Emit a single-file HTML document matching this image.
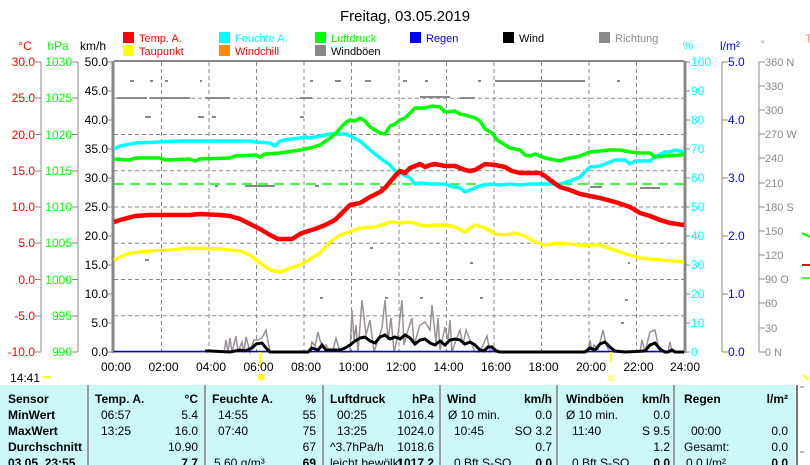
<!DOCTYPE html>
<html><head><meta charset="utf-8"><style>
body{margin:0;background:#fff;width:810px;height:465px;overflow:hidden;font-family:"Liberation Sans",sans-serif}
svg{position:absolute;left:0;top:0}
</style></head><body>
<svg width="810" height="465" viewBox="0 0 810 465" font-family="Liberation Sans, sans-serif" font-size="12">
<text x="405" y="21" text-anchor="middle" font-size="15" fill="#000">Freitag, 03.05.2019</text>
<g font-size="11">
<rect x="123" y="32" width="11" height="11" fill="#f00"/><text x="139" y="42" fill="#f00">Temp. A.</text>
<rect x="219" y="32" width="11" height="11" fill="#0ff"/><text x="235" y="42" fill="#0ff">Feuchte A.</text>
<rect x="315" y="32" width="11" height="11" fill="#0f0"/><text x="331" y="42" fill="#0f0">Luftdruck</text>
<rect x="410" y="32" width="11" height="11" fill="#00f"/><text x="426" y="42" fill="#00f">Regen</text>
<rect x="503" y="32" width="11" height="11" fill="#000"/><text x="519" y="42" fill="#000">Wind</text>
<rect x="599" y="32" width="11" height="11" fill="#888"/><text x="615" y="42" fill="#888">Richtung</text>
<rect x="123" y="45" width="11" height="11" fill="#ff0"/><text x="139" y="55" fill="#f00">Taupunkt</text>
<rect x="219" y="45" width="11" height="11" fill="#f80"/><text x="235" y="55" fill="#f00">Windchill</text>
<rect x="315" y="45" width="11" height="11" fill="#888"/><text x="331" y="55" fill="#000">Windböen</text>
</g>
<text x="805" y="43" fill="#f88" font-size="12">T</text>
<text x="25" y="50" fill="#f00" text-anchor="middle">°C</text>
<text x="58" y="50" fill="#0f0" text-anchor="middle">hPa</text>
<text x="93" y="50" fill="#000" text-anchor="middle">km/h</text>
<text x="688" y="50" fill="#0ff" text-anchor="middle">%</text>
<text x="730" y="50" fill="#00f" text-anchor="middle">l/m²</text>
<text x="761" y="47" fill="#888" font-size="9">°</text>
<g stroke="#888" stroke-width="1">
<line x1="41" y1="62" x2="41" y2="352"/><line x1="78" y1="62" x2="78" y2="352"/>
<line x1="722" y1="62" x2="722" y2="352"/><line x1="759" y1="62" x2="759" y2="352"/>
</g>
<g font-size="12" text-anchor="end">
<g fill="#f00">
<text x="35" y="66">30.0</text><text x="35" y="102">25.0</text><text x="35" y="139">20.0</text><text x="35" y="175">15.0</text><text x="35" y="211">10.0</text><text x="35" y="247">5.0</text><text x="35" y="284">0.0</text><text x="35" y="320">-5.0</text><text x="35" y="356">-10.0</text>
</g>
<g fill="#0f0">
<text x="72" y="66">1030</text><text x="72" y="102">1025</text><text x="72" y="139">1020</text><text x="72" y="175">1015</text><text x="72" y="211">1010</text><text x="72" y="247">1005</text><text x="72" y="284">1000</text><text x="72" y="320">995</text><text x="72" y="356">990</text>
</g>
<g fill="#000">
<text x="108" y="66">50.0</text><text x="108" y="95">45.0</text><text x="108" y="124">40.0</text><text x="108" y="153">35.0</text><text x="108" y="182">30.0</text><text x="108" y="211">25.0</text><text x="108" y="240">20.0</text><text x="108" y="269">15.0</text><text x="108" y="298">10.0</text><text x="108" y="327">5.0</text><text x="108" y="356">0.0</text>
</g>
</g>
<g stroke="#888">
<path d="M35 62h6M35 98h6M35 134.5h6M35 171h6M35 207h6M35 243h6M35 279.5h6M35 316h6M35 352h6"/>
<path d="M72 62h6M72 98h6M72 134.5h6M72 171h6M72 207h6M72 243h6M72 279.5h6M72 316h6M72 352h6"/>
<path d="M108 62h6M108 91h6M108 120h6M108 149h6M108 178h6M108 207h6M108 236h6M108 265h6M108 294h6M108 323h6M108 352h6"/>
<path d="M684 62h6M684 91h6M684 120h6M684 149h6M684 178h6M684 207h6M684 236h6M684 265h6M684 294h6M684 323h6M684 352h6"/>
<path d="M722 62h6M722 120h6M722 178h6M722 236h6M722 294h6M722 352h6"/>
<path d="M759 62h6M759 86h6M759 110h6M759 134h6M759 158h6M759 183h6M759 207h6M759 231h6M759 255h6M759 279h6M759 303h6M759 328h6M759 352h6"/>
</g>
<g font-size="12">
<g fill="#0ff">
<text x="691" y="66">100</text><text x="691" y="95">90</text><text x="691" y="124">80</text><text x="691" y="153">70</text><text x="691" y="182">60</text><text x="691" y="211">50</text><text x="691" y="240">40</text><text x="691" y="269">30</text><text x="691" y="298">20</text><text x="691" y="327">10</text><text x="691" y="356">0</text>
</g>
<g fill="#00f">
<text x="728" y="66">5.0</text><text x="728" y="124">4.0</text><text x="728" y="182">3.0</text><text x="728" y="240">2.0</text><text x="728" y="298">1.0</text><text x="728" y="356">0.0</text>
</g>
<g fill="#888" font-size="11">
<text x="765" y="66">360 N</text><text x="765" y="90">330</text><text x="765" y="114">300</text><text x="765" y="138">270 W</text><text x="765" y="162">240</text><text x="765" y="187">210</text><text x="765" y="211">180 S</text><text x="765" y="235">150</text><text x="765" y="259">120</text><text x="765" y="283">90 O</text><text x="765" y="307">60</text><text x="765" y="332">30</text><text x="765" y="356">0 N</text>
</g>
</g>
<g stroke="#888" stroke-dasharray="4,3" stroke-width="1">
<path d="M161.5 62V352M209 62V352M256.5 62V352M304 62V352M351.5 62V352M399 62V352M446.5 62V352M494 62V352M541.5 62V352M589 62V352M636.5 62V352"/>
<path d="M114 98.25H684M114 134.5H684M114 170.75H684M114 207H684M114 243.25H684M114 279.5H684M114 315.75H684"/>
</g>
<rect x="114" y="61" width="570" height="291" fill="none" stroke="#888" stroke-width="1"/>
<line x1="113" y1="61" x2="113" y2="353" stroke="#888" stroke-width="3"/>
<line x1="685" y1="61" x2="685" y2="353" stroke="#888" stroke-width="3"/>
<line x1="114" y1="61" x2="684" y2="61" stroke="#888" stroke-width="2"/>
<g fill="#888">
<rect x="130" y="80" width="4" height="2"/><rect x="150" y="80" width="3" height="2"/><rect x="165" y="80" width="3" height="2"/><rect x="200" y="80" width="2" height="2"/><rect x="310" y="80" width="3" height="2"/><rect x="335" y="80" width="6" height="2"/><rect x="365" y="80" width="6" height="2"/><rect x="403" y="80" width="4" height="2"/><rect x="425" y="80" width="3" height="2"/><rect x="478" y="80" width="3" height="2"/><rect x="617" y="80" width="3" height="2"/>
<rect x="495" y="80" width="90" height="2"/>
<rect x="117" y="97" width="30" height="2"/><rect x="150" y="97" width="40" height="2"/><rect x="205" y="97" width="25" height="2"/><rect x="300" y="97" width="12" height="2"/><rect x="420" y="96" width="30" height="2"/><rect x="460" y="97" width="15" height="2"/>
<rect x="145" y="116" width="6" height="2"/><rect x="198" y="116" width="6" height="2"/><rect x="212" y="116" width="4" height="2"/><rect x="300" y="116" width="4" height="2"/>
<rect x="245" y="185" width="30" height="2"/><rect x="215" y="185" width="3" height="2"/><rect x="315" y="185" width="4" height="2"/><rect x="380" y="186" width="5" height="2"/><rect x="590" y="186" width="12" height="2"/><rect x="640" y="187" width="20" height="2"/>
<rect x="145" y="259" width="4" height="2"/><rect x="370" y="247" width="3" height="2"/><rect x="600" y="244" width="3" height="2"/><rect x="470" y="262" width="3" height="2"/><rect x="628" y="262" width="2" height="2"/>
<rect x="320" y="297" width="3" height="2"/><rect x="385" y="297" width="3" height="2"/><rect x="420" y="297" width="3" height="2"/><rect x="480" y="297" width="3" height="2"/><rect x="621" y="322" width="3" height="2"/><rect x="625" y="299" width="3" height="2"/>
</g>
<line x1="114" y1="184" x2="684" y2="184" stroke="#0f0" stroke-width="1.5" stroke-dasharray="10,6"/>
<polyline fill="none" stroke="#9a9098" stroke-width="1.5" points="224,352 226,340 228,352 230,338 232,352 236,336 238,352 242,342 244,352 246,337 250,352 254,340 258,340 262,338 266,330 270,352 310,352 312,342 315,346 318,332 320,340 323,348 326,345 330,352 333,350 336,338 340,352 350,352 352,310 354,340 356,325 358,352 362,300 366,335 370,320 374,352 378,340 382,328 385,300 388,340 391,318 394,352 398,335 402,300 404,345 408,330 412,318 414,345 420,325 425,322 430,330 432,305 436,343 438,318 440,350 445,327 448,340 450,320 452,352 456,340 460,330 463,345 466,330 470,340 475,352 480,352 487,336 490,352 494,348 500,352 588,352 590,340 592,352 594,345 598,350 603,330 606,345 610,352 640,352 642,340 645,352 650,332 655,330 658,345 660,352 668,352 670,342 672,352"/>
<line x1="114" y1="351.5" x2="684" y2="351.5" stroke="#00c" stroke-width="1.5"/>
<polyline fill="none" stroke="#000" stroke-width="3" points="205,351 210,351 230,352 240,350 245,351 252,348 256,344 262,343 266,348 270,352 308,352 312,348 318,350 322,345 326,350 340,350 345,348 350,345 355,341 360,338 365,337 370,341 375,343 380,337 385,335 390,339 395,337 400,339 405,335 410,338 415,344 420,340 425,339 430,343 435,345 440,341 445,345 450,340 455,339 460,340 465,344 470,342 475,345 480,350 484,351 488,347 492,347 496,351 500,352 585,352 590,348 595,350 600,344 605,342 610,347 615,351 625,352 645,351 650,345 655,343 660,349 665,352 668,352 672,350 675,352 684,352"/>
<polyline fill="none" stroke="#0ff" stroke-width="3.5" stroke-linejoin="round" points="114,149 120,146 125,145 135,143 180,141 250,141 255,142 270,143 275,146 280,141 285,140 300,138 305,137 310,138 315,137 330,134 345,134 350,136 360,141 370,150 380,158 390,165 395,171 400,173 410,178 415,184 420,183 430,184 445,184 450,186 460,188 465,192 470,190 480,186 490,184 500,185 510,184 520,185 530,184 560,184 570,181 580,177 590,167 600,166 615,160 625,160 630,164 635,161 650,161 655,157 665,152 670,152 675,150 684,152"/>
<polyline fill="none" stroke="#0f0" stroke-width="3.5" stroke-linejoin="round" points="114,159 130,160 135,158 160,158 165,160 190,159 195,161 200,159 230,158 235,156 255,155 260,157 265,154 280,153 300,150 310,148 320,145 330,138 335,134 345,123 350,120 355,121 360,118 365,121 370,127 380,133 385,134 390,126 395,124 400,120 405,118 415,108 425,108 432,106 440,107 445,112 455,111 460,114 465,115 475,118 480,121 485,129 492,133 497,140 505,145 510,148 520,150 525,155 530,156 535,154 545,158 555,160 560,161 565,159 570,158 580,156 590,152 600,151 610,150 620,150 630,152 640,153 650,153 655,157 665,156 680,155 684,154"/>
<polyline fill="none" stroke="#f00" stroke-width="4.5" stroke-linejoin="round" points="114,222 120,220 135,216 150,215 190,215 200,214 220,215 230,216 240,219 250,224 260,229 270,235 278,239 292,239 300,234 305,232 315,229 325,225 335,220 345,210 350,205 360,203 370,197 380,192 385,188 390,182 395,176 400,171 405,173 410,168 420,164 425,167 430,165 435,164 445,166 455,166 460,168 465,170 470,171 475,170 485,164 495,165 505,167 512,171 520,173 540,173 545,176 550,180 560,187 570,190 580,194 600,198 615,202 630,207 640,213 650,216 660,220 670,223 684,225"/>
<polyline fill="none" stroke="#ff0" stroke-width="3.5" stroke-linejoin="round" points="114,260 120,257 130,253 150,251 170,250 190,248 220,249 240,251 250,255 260,263 270,270 280,272 290,268 300,265 310,259 320,253 330,242 340,235 350,232 360,228 375,227 385,224 390,222 400,223 410,222 425,226 435,225 445,225 455,227 465,232 470,228 475,225 485,228 495,234 505,235 515,233 525,236 535,242 545,245 560,243 580,245 600,245 620,252 640,258 660,260 672,261 684,262"/>
<line x1="260" y1="352" x2="260" y2="367" stroke="#ff0" stroke-width="2"/>
<circle cx="261" cy="377" r="3.5" fill="#ff0"/>
<line x1="611" y1="352" x2="611" y2="362" stroke="#ff0" stroke-width="2"/>
<rect x="609" y="376" width="4" height="4" fill="none" stroke="#ff0"/>
<path d="M42 378a5 4 0 0 1 9 0z" fill="#ff0"/>
<path d="M803 375l6 5" stroke="#ff0" stroke-width="2"/>
<g font-size="12" fill="#000" text-anchor="middle">
<text x="116" y="371">00:00</text><text x="163.5" y="371">02:00</text><text x="211" y="371">04:00</text><text x="258.5" y="371">06:00</text><text x="306" y="371">08:00</text><text x="353.5" y="371">10:00</text><text x="401" y="371">12:00</text><text x="448.5" y="371">14:00</text><text x="496" y="371">16:00</text><text x="543.5" y="371">18:00</text><text x="591" y="371">20:00</text><text x="638.5" y="371">22:00</text><text x="685" y="371">24:00</text>
</g>
<text x="10" y="382" font-size="12">14:41</text>
<rect x="0" y="385" width="795" height="80" fill="#ccf8f8"/>
<g stroke="#999" stroke-width="2"><path d="M88 385V465M205 385V465M323 385V465M440 385V465M557 385V465M674 385V465"/></g>
<path d="M797 385V465" stroke="#777" stroke-width="2"/>
<path d="M800 387h4M800 452h4" stroke="#777"/>
<g font-size="12" fill="#000">
<g font-weight="bold">
<text x="8" y="403">Sensor</text><text x="8" y="419">MinWert</text><text x="8" y="435">MaxWert</text><text x="8" y="451">Durchschnitt</text><text x="8" y="467">03.05. 23:55</text>
<text x="95" y="403">Temp. A.</text><text x="198" y="403" text-anchor="end">°C</text>
<text x="212" y="403">Feuchte A.</text><text x="316" y="403" text-anchor="end">%</text>
<text x="330" y="403">Luftdruck</text><text x="434" y="403" text-anchor="end">hPa</text>
<text x="447" y="403">Wind</text><text x="552" y="403" text-anchor="end">km/h</text>
<text x="566" y="403">Windböen</text><text x="670" y="403" text-anchor="end">km/h</text>
<text x="684" y="403">Regen</text><text x="788" y="403" text-anchor="end">l/m²</text>
<text x="198" y="467" text-anchor="end">7.7</text><text x="316" y="467" text-anchor="end">69</text><text x="434" y="467" text-anchor="end">1017.2</text><text x="552" y="467" text-anchor="end">0.0</text><text x="670" y="467" text-anchor="end">0.0</text><text x="788" y="467" text-anchor="end">0.0</text>
</g>
<text x="101" y="419">06:57</text><text x="198" y="419" text-anchor="end">5.4</text>
<text x="101" y="435">13:25</text><text x="198" y="435" text-anchor="end">16.0</text>
<text x="198" y="451" text-anchor="end">10.90</text>
<text x="218" y="419">14:55</text><text x="316" y="419" text-anchor="end">55</text>
<text x="218" y="435">07:40</text><text x="316" y="435" text-anchor="end">75</text>
<text x="316" y="451" text-anchor="end">67</text>
<text x="214" y="467">5.60 g/m³</text>
<text x="337" y="419">00:25</text><text x="434" y="419" text-anchor="end">1016.4</text>
<text x="337" y="435">13:25</text><text x="434" y="435" text-anchor="end">1024.0</text>
<text x="330" y="451">^3.7hPa/h</text><text x="434" y="451" text-anchor="end">1018.6</text>
<text x="330" y="467">leicht bewölkt</text>
<text x="448" y="419">Ø 10 min.</text><text x="552" y="419" text-anchor="end">0.0</text>
<text x="454" y="435">10:45</text><text x="552" y="435" text-anchor="end">SO 3.2</text>
<text x="552" y="451" text-anchor="end">0.7</text>
<text x="454" y="467">0 Bft S-SO</text>
<text x="566" y="419">Ø 10 min.</text><text x="670" y="419" text-anchor="end">0.0</text>
<text x="572" y="435">11:40</text><text x="670" y="435" text-anchor="end">S 9.5</text>
<text x="670" y="451" text-anchor="end">1.2</text>
<text x="572" y="467">0 Bft S-SO</text>
<text x="691" y="435">00:00</text><text x="788" y="435" text-anchor="end">0.0</text>
<text x="684" y="451">Gesamt:</text><text x="788" y="451" text-anchor="end">0.0</text>
<text x="686" y="467">0.0 l/m²</text>
</g>
<path d="M802 233l8 4" stroke="#0f0" stroke-width="2"/>
<path d="M802 265l8 0" stroke="#f00" stroke-width="2"/>
<path d="M802 278h8" stroke="#0f0" stroke-width="1.5"/>
</svg>
</body></html>
